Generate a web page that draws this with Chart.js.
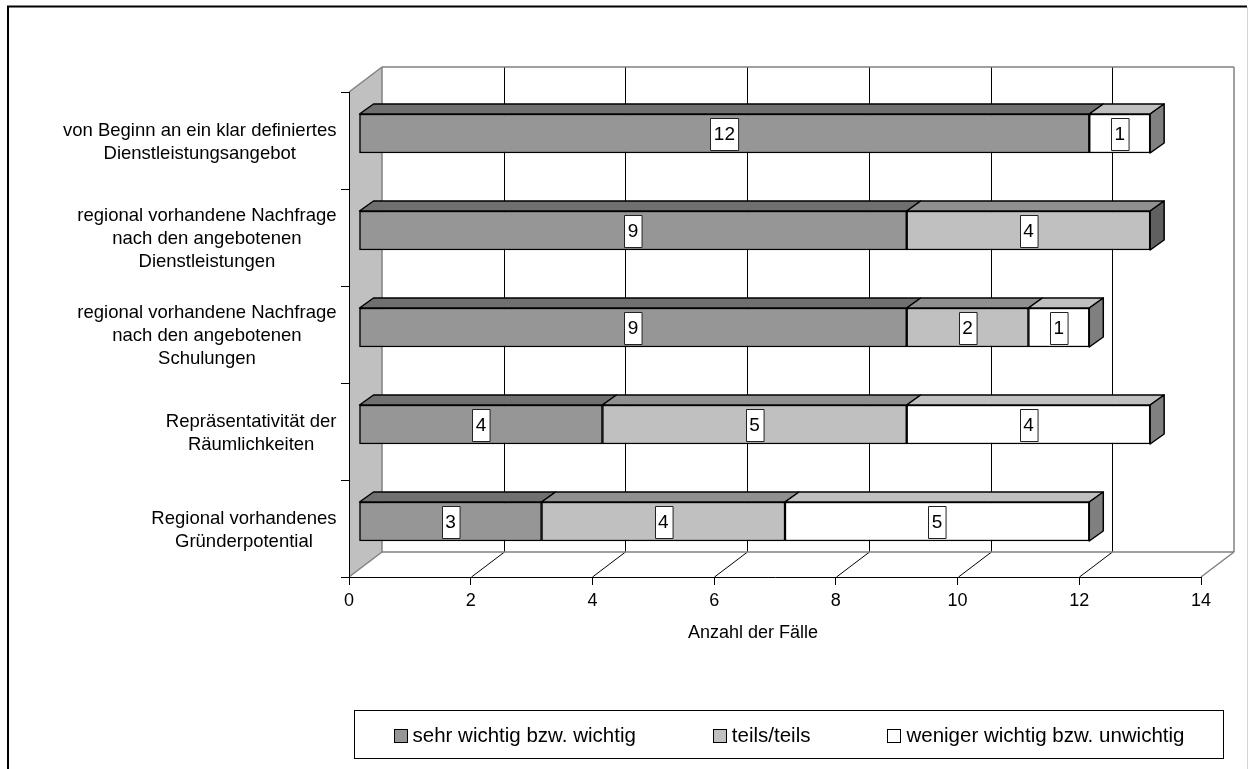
<!DOCTYPE html>
<html>
<head>
<meta charset="utf-8">
<script src="https://cdn.jsdelivr.net/npm/chart.js@4/dist/chart.umd.min.js"></script>
<style>
  html, body { margin: 0; padding: 0; background: #fff; overflow: hidden; }
  #wrap { position: absolute; left: 0; top: 0; width: 1249px; height: 769px; }
</style>
</head>
<body>
<div id="wrap"><canvas id="c" width="1249" height="769"></canvas></div>
<script>
// Factors, one entry per row (top to bottom), already broken into lines
const categories = [
  ['von Beginn an ein klar definiertes', 'Dienstleistungsangebot'],
  ['regional vorhandene Nachfrage', 'nach den angebotenen', 'Dienstleistungen'],
  ['regional vorhandene Nachfrage', 'nach den angebotenen', 'Schulungen'],
  ['Repräsentativität der', 'Räumlichkeiten'],
  ['Regional vorhandenes', 'Gründerpotential']
];
const seriesNames = ['sehr wichtig bzw. wichtig', 'teils/teils', 'weniger wichtig bzw. unwichtig'];
const sehrWichtig = [12, 9, 9, 4, 3];
const teilsTeils = [null, 4, 2, 5, 4];
const wenigerWichtig = [1, null, 1, 4, 5];
const xTicks = [0, 2, 4, 6, 8, 10, 12, 14];
const axisTitle = 'Anzahl der Fälle';

// Face shading for the pseudo-3D bars
const frontColors = ['#969696', '#c0c0c0', '#ffffff'];
const topColors = ['#707070', '#909090', '#c0c0c0'];
const sideColors = ['#4b4b4b', '#606060', '#808080'];

// Depth geometry
const WALL_DX = 33, WALL_DY = -25;      // back wall offset from the front plane
const BAR_SHIFT_X = 10, BAR_SHIFT_Y = -7; // bars sit a little behind the front plane
const BAR_DX = 14, BAR_DY = -10;         // bar depth

const FONT = '"Liberation Sans", Arial, sans-serif';
Chart.defaults.font.family = FONT;
Chart.defaults.color = '#000';

function poly(ctx, pts) {
  ctx.beginPath();
  ctx.moveTo(pts[0][0], pts[0][1]);
  for (let i = 1; i < pts.length; i++) ctx.lineTo(pts[i][0], pts[i][1]);
  ctx.closePath();
}
function line(ctx, x1, y1, x2, y2) {
  ctx.beginPath(); ctx.moveTo(x1, y1); ctx.lineTo(x2, y2); ctx.stroke();
}

const scene3d = {
  id: 'scene3d',
  beforeDraw(chart) {
    const { ctx, chartArea: a, scales: { x } } = chart;
    ctx.save();
    // outer frame
    ctx.strokeStyle = '#000';
    ctx.lineWidth = 2;
    ctx.beginPath();
    ctx.moveTo(8, 769); ctx.lineTo(8, 6.5); ctx.lineTo(1247, 6.5);
    ctx.stroke();
    ctx.strokeStyle = '#d4d4d4'; ctx.lineWidth = 1;
    line(ctx, 1247.5, 7, 1247.5, 769);

    const bx0 = x.getPixelForValue(0) + WALL_DX;
    const bx1 = x.getPixelForValue(14) + WALL_DX;
    const bTop = a.top + WALL_DY;
    const bBot = a.bottom + WALL_DY;

    // left side wall
    ctx.fillStyle = '#c0c0c0';
    poly(ctx, [[a.left, a.top], [bx0, bTop], [bx0, bBot], [a.left, a.bottom]]);
    ctx.fill();

    // back wall + floor gridlines
    ctx.lineWidth = 1;
    ctx.strokeStyle = '#000';
    xTicks.forEach(v => {
      if (v === 0 || v === 14) return;
      const px = Math.round(x.getPixelForValue(v)) + 0.5;
      line(ctx, px + WALL_DX, bTop, px + WALL_DX, bBot);
      line(ctx, px, a.bottom, px + WALL_DX, bBot);
    });

    // wall edges
    ctx.strokeStyle = '#808080';
    ctx.lineWidth = 1.5;
    line(ctx, a.left, a.top, bx0, bTop);
    line(ctx, bx0, bTop, bx1, bTop);
    line(ctx, bx0, bTop, bx0, bBot);
    line(ctx, bx1, bTop, bx1, bBot);
    line(ctx, bx0, bBot, bx1, bBot);
    line(ctx, a.left, a.bottom, bx0, bBot);
    line(ctx, x.getPixelForValue(14), a.bottom, bx1, bBot);
    ctx.restore();
  },
  beforeDatasetsDraw(chart) {
    chart.ctx.save();
    chart.ctx.translate(BAR_SHIFT_X, BAR_SHIFT_Y);
  },
  afterDatasetsDraw(chart) {
    const ctx = chart.ctx;
    const nRows = categories.length;
    const labels = [];
    ctx.lineWidth = 1.5;
    ctx.strokeStyle = '#000';
    ctx.lineJoin = 'round';
    for (let r = 0; r < nRows; r++) {
      let last = null;
      chart.data.datasets.forEach((ds, di) => {
        const v = ds.data[r];
        if (v === null || v === undefined) return;
        const el = chart.getDatasetMeta(di).data[r];
        const top = el.y - el.height / 2;
        const x0 = el.base, x1 = el.x;
        ctx.fillStyle = topColors[di];
        poly(ctx, [[x0, top], [x0 + BAR_DX, top + BAR_DY], [x1 + BAR_DX, top + BAR_DY], [x1, top]]);
        ctx.fill(); ctx.stroke();
        last = { el, di };
        labels.push({ x: (x0 + x1) / 2, y: el.y, text: String(v) });
      });
      if (last) {
        const el = last.el;
        const top = el.y - el.height / 2, bot = el.y + el.height / 2;
        ctx.fillStyle = sideColors[last.di];
        poly(ctx, [[el.x, top], [el.x + BAR_DX, top + BAR_DY], [el.x + BAR_DX, bot + BAR_DY], [el.x, bot]]);
        ctx.fill(); ctx.stroke();
      }
    }
    // value labels in small white boxes
    ctx.font = '19px ' + FONT;
    ctx.textAlign = 'center';
    ctx.textBaseline = 'middle';
    labels.forEach(l => {
      const w = ctx.measureText(l.text).width + 7;
      const h = 32;
      const bx = Math.round(l.x - w / 2) + 0.5, by = Math.round(l.y - h / 2) + 0.5;
      ctx.fillStyle = '#fff';
      ctx.fillRect(bx, by, w, h);
      ctx.lineWidth = 1;
      ctx.strokeStyle = '#222';
      ctx.strokeRect(bx, by, w, h);
      ctx.fillStyle = '#000';
      ctx.fillText(l.text, l.x, l.y + 1);
    });
    ctx.restore();
  },
  afterDraw(chart) {
    const { ctx, chartArea: a, scales: { x, y } } = chart;
    ctx.save();
    ctx.fillStyle = '#000';
    ctx.textBaseline = 'middle';
    ctx.textAlign = 'center';

    // category labels: each block right-aligned, lines centred within it
    ctx.font = '18.5px ' + FONT;
    const lh = 23;
    categories.forEach((lines, i) => {
      const cy = y.getPixelForValue(i) + 1.5;
      const widest = Math.max(...lines.map(s => ctx.measureText(s).width));
      const cx = a.left - 12.5 - widest / 2;
      lines.forEach((s, k) => {
        ctx.fillText(s, cx, cy + (k - (lines.length - 1) / 2) * lh);
      });
    });

    // axis title
    ctx.font = '18px ' + FONT;
    ctx.fillText(axisTitle, 753, 633);

    // legend
    const lx0 = 354.5, lx1 = 1223.5, ly0 = 710.5, ly1 = 758.5;
    ctx.strokeStyle = '#000';
    ctx.lineWidth = 1;
    ctx.strokeRect(lx0, ly0, lx1 - lx0, ly1 - ly0);
    ctx.font = '20.5px ' + FONT;
    const box = 13, gapBox = 6, gapItem = 77;
    const widths = chart.data.datasets.map(ds => box + gapBox + ctx.measureText(ds.label).width);
    const total = widths.reduce((s, w) => s + w, 0) + gapItem * (widths.length - 1);
    let cx = (lx0 + lx1) / 2 - total / 2;
    const cy = 735;
    ctx.textAlign = 'left';
    chart.data.datasets.forEach((ds, i) => {
      const bx = Math.round(cx) + 0.5, by = Math.round(cy - box / 2) + 0.5;
      ctx.fillStyle = frontColors[i];
      ctx.fillRect(bx, by, box, box);
      ctx.strokeStyle = '#000';
      ctx.strokeRect(bx, by, box, box);
      ctx.fillStyle = '#000';
      ctx.fillText(ds.label, cx + box + gapBox, cy + 1);
      cx += widths[i] + gapItem;
    });
    ctx.restore();
  }
};

const seriesValues = [sehrWichtig, teilsTeils, wenigerWichtig];

new Chart(document.getElementById('c'), {
  type: 'bar',
  data: {
    labels: categories,
    datasets: seriesValues.map((vals, i) => ({
      label: seriesNames[i],
      data: vals,
      backgroundColor: frontColors[i],
      borderColor: '#000',
      borderWidth: 1.5,
      borderSkipped: false,
      barThickness: 39
    }))
  },
  options: {
    indexAxis: 'y',
    responsive: false,
    animation: false,
    events: [],
    devicePixelRatio: 1,
    layout: { padding: { left: 0, top: 92, right: 48, bottom: 0 } },
    plugins: { legend: { display: false }, tooltip: { enabled: false } },
    datasets: { bar: { clip: false } },
    scales: {
      x: {
        type: 'linear',
        stacked: true,
        min: 0,
        max: 14,
        afterFit: s => { s.height = 192; },
        afterBuildTicks: s => { s.ticks = xTicks.map(v => ({ value: v })); },
        ticks: { font: { size: 18 }, color: '#000', padding: 5, autoSkip: false, maxRotation: 0 },
        grid: { drawOnChartArea: false, drawTicks: true, tickLength: 8, color: '#000', lineWidth: 1 },
        border: { display: true, color: '#000', width: 1 }
      },
      y: {
        type: 'category',
        stacked: true,
        afterFit: s => { s.width = 349; },
        ticks: { display: false },
        grid: { offset: true, drawOnChartArea: false, drawTicks: true, tickLength: 8, color: '#000', lineWidth: 1 },
        border: { display: true, color: '#000', width: 1 }
      }
    }
  },
  plugins: [scene3d]
});
</script>
</body>
</html>
